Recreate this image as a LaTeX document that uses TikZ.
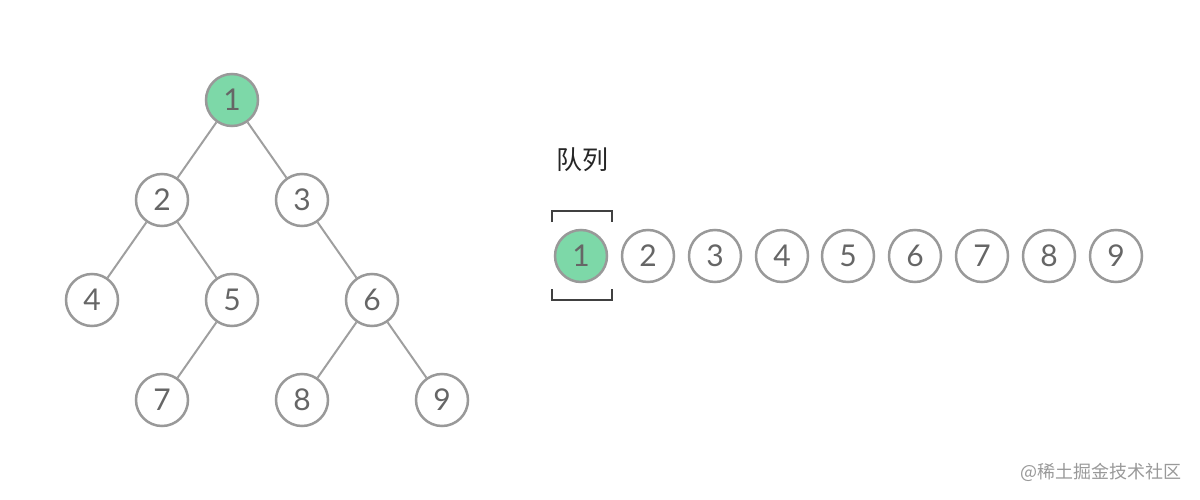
\documentclass[tikz,border=0pt]{standalone}
\usepackage{fontspec}
\setmainfont{Lato}
\newfontfamily\cjk{Noto Sans CJK SC}
\begin{document}
\begin{tikzpicture}[x=1pt,y=-1pt,
  nd/.style={circle,draw=gray!80,line width=2.5pt,minimum size=52pt,inner sep=0pt,font=\fontsize{30}{30}\selectfont,text=gray!120},
  gn/.style={nd,fill=green!45!cyan!40!white},
  ed/.style={draw=gray!75,line width=2pt}]
\useasboundingbox (0,0) rectangle (1200,500);
\definecolor{gfill}{HTML}{7DD8A8}
\tikzset{gn/.style={nd,fill=gfill}}
\node[gn] (t1) at (232,100) {1};
\node[nd] (t2) at (162,200) {2};
\node[nd] (t3) at (302,200) {3};
\node[nd] (t4) at (92,300) {4};
\node[nd] (t5) at (232,300) {5};
\node[nd] (t6) at (372,300) {6};
\node[nd] (t7) at (162,400) {7};
\node[nd] (t8) at (302,400) {8};
\node[nd] (t9) at (442,400) {9};
\foreach \a/\b in {t1/t2,t1/t3,t2/t4,t2/t5,t3/t6,t5/t7,t6/t8,t6/t9} \draw[ed] (\a) -- (\b);
\node[font=\cjk\fontsize{26}{26}\selectfont,text=black!85] (lbl) at (582,160) {队列};
\node[gn] (q1) at (581,256) {1};
\foreach \i/\x in {2/648,3/715,4/782,5/848,6/915,7/982,8/1049,9/1116}
  \node[nd] (q\i) at (\x,256) {\i};
\coordinate (b1) at (552,222); \coordinate (b2) at (552,211);
\coordinate (b3) at (612,211); \coordinate (b4) at (612,222);
\draw[line width=2pt,draw=black!75] (b1) -- (b2) -- (b3) -- (b4);
\coordinate (c1) at (552,289); \coordinate (c2) at (552,300);
\coordinate (c3) at (612,300); \coordinate (c4) at (612,289);
\draw[line width=2pt,draw=black!75] (c1) -- (c2) -- (c3) -- (c4);
\node[font=\cjk\fontsize{18}{18}\selectfont,text=gray!80,anchor=east] (wm) at (1185,472) {@稀土掘金技术社区};
\end{tikzpicture}
\end{document}
